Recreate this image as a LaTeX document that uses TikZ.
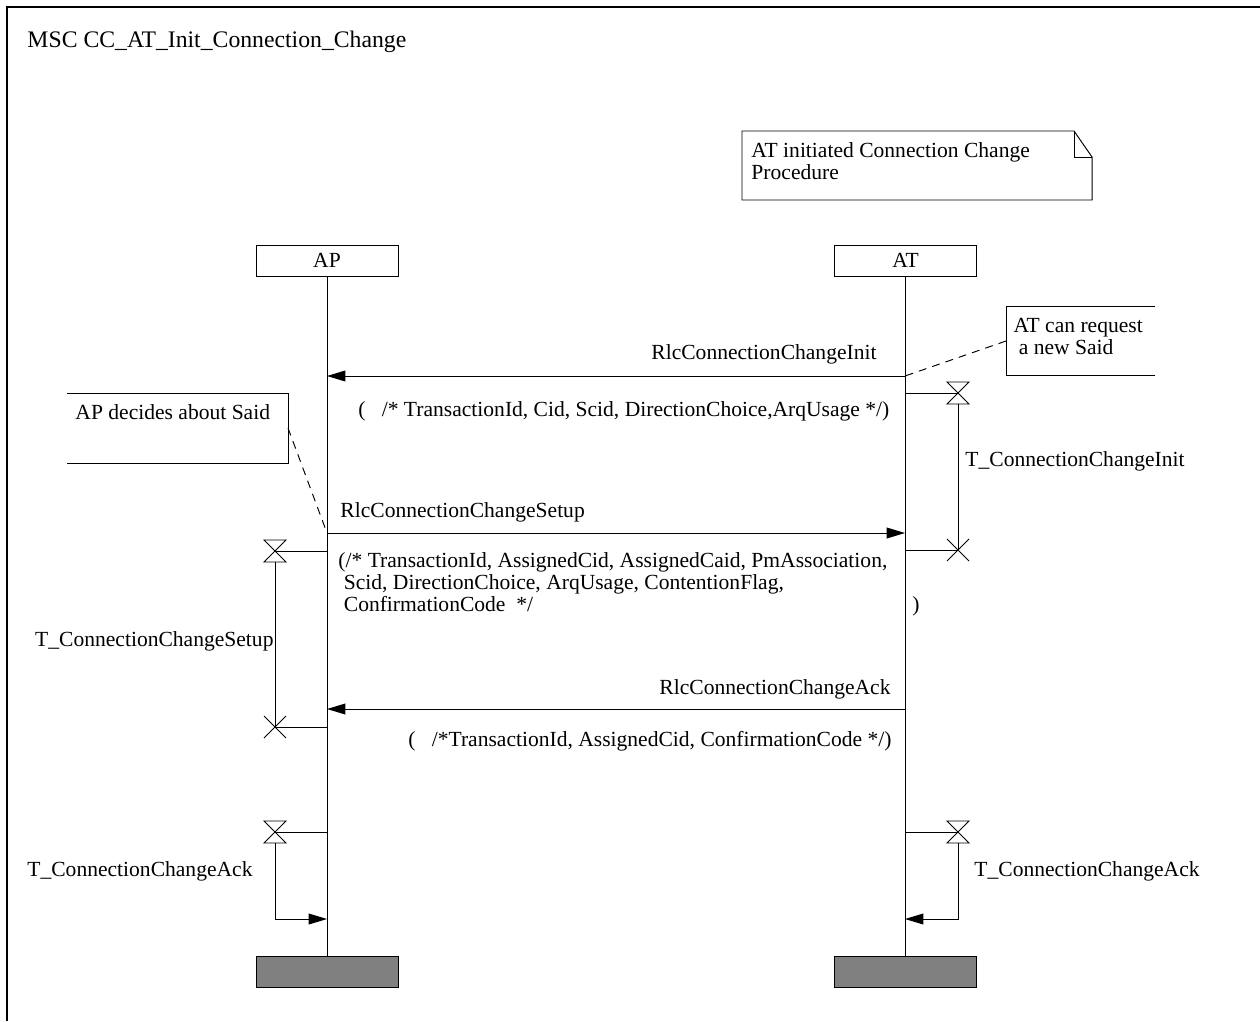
\documentclass[tikz,border=0pt]{standalone}
\usepackage{fontspec}
\setmainfont{Liberation Serif}
\usetikzlibrary{arrows.meta,positioning,calc}
\usepackage{xcolor}
\definecolor{EndGray}{HTML}{808080}

\tikzset{
  inst/.style={draw,minimum width=2.84cm,minimum height=0.62cm,inner sep=0pt},
  instend/.style={inst,fill=EndGray},
  msg/.style={-{Triangle[length=10.5pt,width=6.2pt]}},
  lbl/.style={inner sep=0pt,anchor=base west},
  lblr/.style={inner sep=0pt,anchor=base east},
  cmt/.style={dash pattern=on 4.5pt off 3.5pt},
  tstart/.pic={\draw (-11,-11) -- (11,-11) -- (-11,11) -- (11,11) -- cycle;},
  tout/.pic={\draw (-11,-11) -- (11,11) (-11,11) -- (11,-11);},
}

\begin{document}
\begin{tikzpicture}[x=0.02cm,y=-0.02cm,line width=0.55pt,font=\fontsize{12.27}{12.3}\selectfont]
  \useasboundingbox (0,0) rectangle (1260,1021);
  \draw[line width=0.9pt] (7,1021) -- (7,7) -- (1260,7);
  \node[lbl,font=\fontsize{13.5}{14}\selectfont] (title) at (27,47) {MSC CC\_AT\_Init\_Connection\_Change};

  % procedure note
  \draw (742,131) -- (1074,131) -- (1092,157) -- (1092,200) -- (742,200) -- cycle;
  \draw (1074,131) -- (1074,157) -- (1092,157);
  \node[lbl,align=left] (note) at (751,179) {AT initiated Connection Change\\Procedure};

  % instances
  \node[inst] (ap) at (327,260.5) {AP};
  \node[inst] (at) at (905.5,260.5) {AT};
  \node[instend] (apend) at (327,971.5) {};
  \node[instend] (atend) at (905.5,971.5) {};
  \draw (ap) -- (apend);
  \draw (at) -- (atend);

  % points on the lifelines
  \coordinate (ap1) at (327,376);  \coordinate (at1) at (905,376);
  \coordinate (at2) at (905,393);  \coordinate (at3) at (905,550);
  \coordinate (ap2) at (327,533);  \coordinate (at4) at (905,533);
  \coordinate (ap3) at (327,551);  \coordinate (ap4) at (327,727);
  \coordinate (ap5) at (327,709);  \coordinate (at5) at (905,709);
  \coordinate (ap6) at (327,832);  \coordinate (ap7) at (327,919);
  \coordinate (at6) at (905,832);  \coordinate (at7) at (905,919);

  % RlcConnectionChangeInit
  \draw[msg] (at1) -- (ap1);
  \node[lblr] (m1) at (877,359) {RlcConnectionChangeInit};
  \node[lbl] (p1) at (358,416) {(\ \ \ /* TransactionId, Cid, Scid, DirectionChoice,ArqUsage */)};

  % comment at AT
  \draw (1155,306) -- (1006,306) -- (1006,375) -- (1155,375);
  \node[lbl,align=left] (c1) at (1013,354) {AT can request\\\ a new Said};
  \draw[cmt] (1006,341) -- (at1);

  % T_ConnectionChangeInit
  \coordinate (ti1) at (958,393);
  \coordinate (ti2) at (958,550);
  \draw (at2) -- (ti1);
  \pic at (ti1) {tstart};
  \draw ($(ti1)+(0,11)$) -- (ti2);
  \pic at (ti2) {tout};
  \draw (at3) -- (ti2);
  \node[lbl] (t1) at (965,466) {T\_ConnectionChangeInit};

  % comment at AP
  \draw (67,393) -- (288,393) -- (288,463) -- (67,463);
  \node[lbl] (c2) at (75,419) {AP decides about Said};
  \draw[cmt] (288,428) -- (ap2);

  % RlcConnectionChangeSetup
  \draw[msg] (ap2) -- (at4);
  \node[lbl] (m2) at (340,517) {RlcConnectionChangeSetup};
  \node[lbl,align=left,font=\fontsize{12.27}{12.5}\selectfont] (p2) at (338,611) {(/* TransactionId, AssignedCid, AssignedCaid, PmAssociation,\\\ Scid, DirectionChoice, ArqUsage, ContentionFlag,\\\ ConfirmationCode\ \ */};
  \node[lbl] (p2r) at (912,611) {)};

  % T_ConnectionChangeSetup
  \coordinate (ts1) at (275,551);
  \coordinate (ts2) at (275,727);
  \draw (ap3) -- (ts1);
  \pic at (ts1) {tstart};
  \draw ($(ts1)+(0,11)$) -- (ts2);
  \pic at (ts2) {tout};
  \draw (ap4) -- (ts2);
  \node[lblr] (t2) at (274,646) {T\_ConnectionChangeSetup};

  % RlcConnectionChangeAck
  \draw[msg] (at5) -- (ap5);
  \node[lblr] (m3) at (891,694) {RlcConnectionChangeAck};
  \node[lbl] (p3) at (408,746) {(\ \ \ /*TransactionId, AssignedCid, ConfirmationCode */)};

  % T_ConnectionChangeAck on both sides
  \coordinate (ta1) at (275,832);
  \draw (ap6) -- (ta1);
  \pic at (ta1) {tstart};
  \draw[msg] ($(ta1)+(0,11)$) |- (ap7);
  \node[lblr] (t3) at (253,876) {T\_ConnectionChangeAck};
  \coordinate (tb1) at (958,832);
  \draw (at6) -- (tb1);
  \pic at (tb1) {tstart};
  \draw[msg] ($(tb1)+(0,11)$) |- (at7);
  \node[lbl] (t4) at (974,876) {T\_ConnectionChangeAck};
\end{tikzpicture}
\end{document}
